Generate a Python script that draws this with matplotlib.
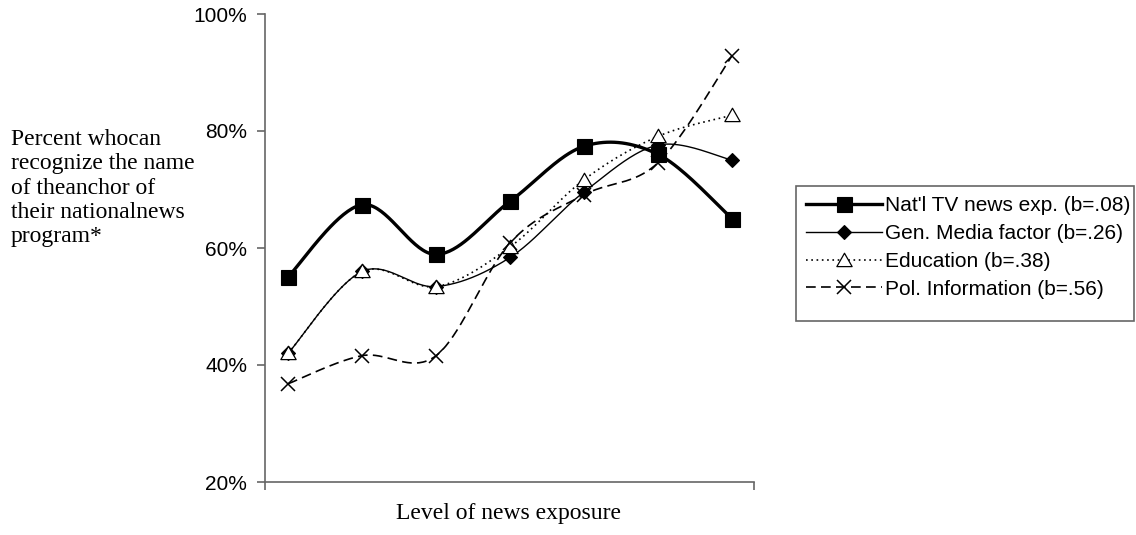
import numpy as np
import matplotlib
matplotlib.use("Agg")
import matplotlib.pyplot as plt
from matplotlib.lines import Line2D
from matplotlib.path import Path
from matplotlib.patches import Rectangle
from matplotlib.ticker import FixedLocator, FuncFormatter

# Share of respondents who can name their national news anchor,
# by level of news exposure, for four predictors
exposure_levels = [1, 2, 3, 4, 5, 6, 7]
nat_tv = [55.1, 67.4, 58.9, 68.0, 77.4, 76.0, 65.0]
gen_media = [42.0, 56.0, 53.4, 58.4, 69.6, 77.6, 75.0]
education = [42.0, 56.0, 53.4, 60.2, 71.7, 79.1, 82.7]
pol_info = [36.8, 41.6, 41.6, 60.9, 69.1, 74.6, 92.9]

series_labels = [
    "Nat'l TV news exp. (b=.08)",
    "Gen. Media factor (b=.26)",
    "Education (b=.38)",
    "Pol. Information (b=.56)",
]
y_ticks = [20, 40, 60, 80, 100]

plt.rcParams["lines.scale_dashes"] = False
SANS = ["Liberation Sans", "DejaVu Sans"]
SERIF = ["Liberation Serif", "DejaVu Serif"]
AXIS_GRAY = "#666666"


def smooth_curve(xs, ys, n=40):
    """Cubic Bezier smoothing through every point (Catmull-Rom tangents)."""
    pts = np.column_stack([xs, ys]).astype(float)
    padded = np.vstack([pts[0], pts, pts[-1]])
    t = np.linspace(0.0, 1.0, n)[:, None]
    segs = []
    for i in range(len(pts) - 1):
        p0, p1, p2, p3 = padded[i], padded[i + 1], padded[i + 2], padded[i + 3]
        c1 = p1 + (p2 - p0) / 6.0
        c2 = p2 - (p3 - p1) / 6.0
        seg = ((1 - t) ** 3) * p1 + 3 * ((1 - t) ** 2) * t * c1 \
            + 3 * (1 - t) * (t ** 2) * c2 + (t ** 3) * p2
        segs.append(seg if i == 0 else seg[1:])
    return np.vstack(segs)


W, H = 1136, 535
fig = plt.figure(figsize=(W / 100, H / 100), dpi=100)
ax = fig.add_axes([264.5 / W, 1 - 482 / H, (754 - 264.5) / W, (482 - 14) / H])

x = np.arange(len(exposure_levels))

# open triangle, slightly wider than tall
tri = Path([(-1.0, -0.8), (1.0, -0.8), (0.0, 0.95), (-1.0, -0.8)],
           [Path.MOVETO, Path.LINETO, Path.LINETO, Path.CLOSEPOLY])

styles = [
    dict(data=nat_tv, lw=2.4, dashes=None, marker="s", ms=10.8,
         mfc="black", mew=0.8, mz=7),
    dict(data=gen_media, lw=1.0, dashes=None, marker="D", ms=7.0,
         mfc="black", mew=0.8, mz=6),
    dict(data=education, lw=1.2, dashes=(1.2, 2.6), marker=tri, ms=11.0,
         mfc="white", mew=0.9, mz=8),
    dict(data=pol_info, lw=1.2, dashes=(7.0, 3.8), marker="x", ms=9.5,
         mfc="black", mew=1.1, mz=9),
]

handles = []
for z, st in enumerate(styles):
    curve = smooth_curve(x, st["data"])
    ln, = ax.plot(curve[:, 0], curve[:, 1], color="black", lw=st["lw"],
                  solid_capstyle="butt", dash_capstyle="butt", zorder=2 + z)
    if st["dashes"] is not None:
        ln.set_dashes(st["dashes"])
    ax.plot(x, st["data"], linestyle="none", marker=st["marker"],
            ms=st["ms"], mfc=st["mfc"], mec="black", mew=st["mew"],
            zorder=st["mz"])
    h = Line2D([], [], color="black", lw=st["lw"], marker=st["marker"],
               ms=st["ms"], mfc=st["mfc"], mec="black", mew=st["mew"])
    if st["dashes"] is not None:
        h.set_dashes(st["dashes"])
    handles.append(h)

ax.set_xlim(-0.32, 6.295)
ax.set_ylim(20, 100)

for side in ("top", "right"):
    ax.spines[side].set_visible(False)
for side in ("left", "bottom"):
    ax.spines[side].set_color(AXIS_GRAY)
    ax.spines[side].set_linewidth(1.2)

ax.yaxis.set_major_locator(FixedLocator(y_ticks))
ax.yaxis.set_major_formatter(FuncFormatter(lambda v, p: f"{v:.0f}%"))
ax.xaxis.set_major_locator(FixedLocator(list(ax.get_xlim())))
ax.set_xticklabels([])
ax.tick_params(axis="y", direction="out", length=5.5, width=1.2,
               color=AXIS_GRAY, pad=7, labelsize=15)
ax.tick_params(axis="x", direction="out", length=5.5, width=1.2,
               color=AXIS_GRAY)
for lab in ax.get_yticklabels():
    lab.set_family(SANS)

fig.text(509 / W, 1 - 514 / H, "Level of news exposure", family=SERIF,
         fontsize=17, ha="center", va="center")
fig.text(11 / W, 1 - 188 / H,
         "Percent whocan\nrecognize the name\nof theanchor of\n"
         "their nationalnews\nprogram*",
         family=SERIF, fontsize=17, ha="left", va="center",
         multialignment="left")

# legend entries, with a separate box drawn around them
leg = fig.legend(handles, series_labels, loc="upper left",
                 bbox_to_anchor=(796 / W, 1 - 186 / H),
                 prop=dict(family=SANS, size=15), frameon=False,
                 handlelength=3.65, handletextpad=0.1, labelspacing=0.42,
                 borderpad=0.5, borderaxespad=0, numpoints=1)
fig.patches.append(Rectangle((796 / W, 1 - 321 / H), (1134 - 796) / W,
                             (321 - 186) / H, transform=fig.transFigure,
                             fill=False, edgecolor=AXIS_GRAY, lw=1.2))

fig.savefig("out.png", dpi=100)
